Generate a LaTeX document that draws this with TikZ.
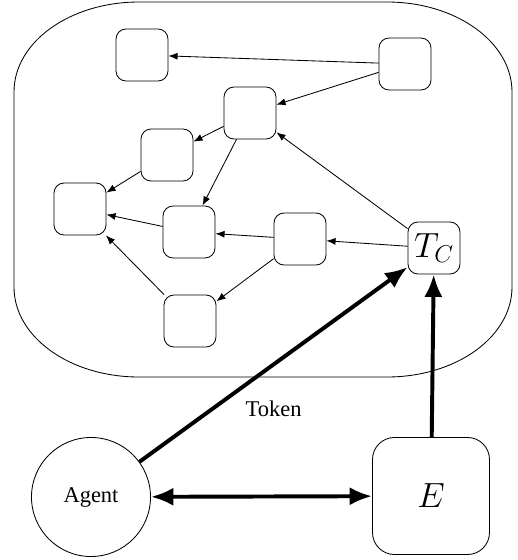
\documentclass[tikz,border=0pt]{standalone}
\usepackage{fontspec}
\setmainfont{Liberation Serif}
\usepackage{amsmath}
\usetikzlibrary{arrows,arrows.meta}
\tikzset{st/.style={draw,rounded corners=0.25cm,minimum size=1.3cm,inner sep=1pt,font=\fontsize{24}{28}\selectfont}}
\tikzset{big/.style={line width=2.8pt,>={Latex[length=16pt,width=13pt]}}}
\tikzset{txt/.style={font=\fontsize{16}{19}\selectfont}}

\begin{document}
\begin{tikzpicture}[x=0.025cm,y=-0.025cm,>={Latex[length=6.5pt,width=5pt]},semithick]
        \useasboundingbox (0,0) rectangle (518,560);
        \draw (139,2) -- (387,2) .. controls (456,2) and (512,42) .. (512,92)
          -- (512,287) .. controls (512,337) and (456,377) .. (387,377)
          -- (139,377) .. controls (70,377) and (14,337) .. (14,287)
          -- (14,92) .. controls (14,42) and (70,2) .. (139,2) -- cycle;
        \node[st] (A) at (142,55) {};
        \node[st] (B) at (405,64) {}
          edge [->] (A);
        \node[st] (C) at (250,113) {}
          edge [<-] (B);
        \node[st] (D) at (167,155) {}
          edge [<-] (C);
        \node[st] (F) at (80,209) {}
          edge [<-] (D);
        \node[st] (G) at (189,232) {}
          edge [<-] (C)
          edge [->] (F);
        \node[st] (H) at (190,321) {}
          edge [->] (F);
        \node[st] (I) at (300,239) {}
          edge [->] (G)
          edge [->] (H);
        \node[st] (T) at (434,248) {$T_C$}
          edge [->] (I)
          edge [->] (C);
        \node[draw,circle,minimum size=2.975cm,txt] (Ag) at (91,497) {Agent}
          edge [big,->] node [txt, below=0.75cm] {Token} (T);
        \node[st,minimum size=2.925cm,rounded corners=0.55cm] (E) at (431,496) {$E$}
          edge [big,->] (T)
          edge [big,<->] (Ag);
      \end{tikzpicture}
\end{document}
